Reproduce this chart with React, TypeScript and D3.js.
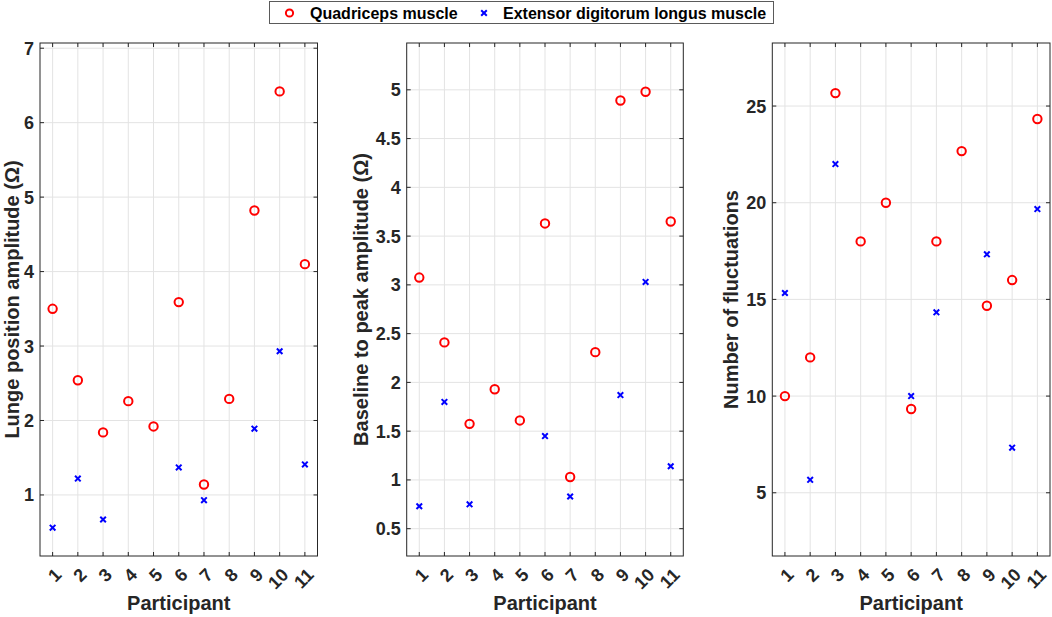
import React from 'react';
import * as d3 from 'd3';

// participants 1..11; NaN = no EDL value recorded
const participants = [1, 2, 3, 4, 5, 6, 7, 8, 9, 10, 11];

const lungeQuad = [3.5, 2.54, 1.84, 2.26, 1.92, 3.59, 1.14, 2.29, 4.82, 6.42, 4.1];
const lungeEdl = [0.56, 1.22, 0.67, NaN, NaN, 1.37, 0.93, NaN, 1.89, 2.93, 1.41];

const peakQuad = [3.075, 2.41, 1.575, 1.93, 1.61, 3.63, 1.03, 2.31, 4.89, 4.98, 3.65];
const peakEdl = [0.73, 1.8, 0.75, NaN, NaN, 1.45, 0.83, NaN, 1.87, 3.03, 1.14];

const flucQuad = [10, 12, 25.67, 18, 20, 9.33, 18, 22.67, 14.67, 16, 24.33];
const flucEdl = [15.33, 5.67, 22, NaN, NaN, 10, 14.33, NaN, 17.33, 7.33, 19.67];

const lungeTicks = [1, 2, 3, 4, 5, 6, 7];
const peakTicks = [0.5, 1, 1.5, 2, 2.5, 3, 3.5, 4, 4.5, 5];
const flucTicks = [5, 10, 15, 20, 25];

const seriesNames = ['Quadriceps muscle', 'Extensor digitorum longus muscle'];

const FONT = '"Liberation Sans", Arial, Helvetica, sans-serif';
const INK = '#262626';
const RED = '#ff0000';
const BLUE = '#0000ff';

interface PanelProps {
  left: number;
  right: number;
  quad: number[];
  edl: number[];
  yDomain: [number, number];
  yTicks: number[];
  yLabel: string;
  yLabelX: number;
}

const TOP = 43;
const BOTTOM = 556;

const Cross = ({ x, y }: { x: number; y: number }) => (
  <path
    d={`M${x - 2.8},${y - 2.8}L${x + 2.8},${y + 2.8}M${x - 2.8},${y + 2.8}L${x + 2.8},${y - 2.8}`}
    stroke={BLUE}
    strokeWidth={2}
    fill="none"
  />
);

const Panel = ({ left, right, quad, edl, yDomain, yTicks, yLabel, yLabelX }: PanelProps) => {
  const x = d3.scaleLinear().domain([0.5, 11.5]).range([left, right]);
  const y = d3.scaleLinear().domain(yDomain).range([BOTTOM, TOP]);
  const tickLen = 4;

  return (
    <g>
      {/* grid */}
      {participants.map(p => (
        <line key={'gx' + p} x1={x(p)} x2={x(p)} y1={TOP} y2={BOTTOM} stroke="#e3e3e3" strokeWidth={1} />
      ))}
      {yTicks.map(t => (
        <line key={'gy' + t} x1={left} x2={right} y1={y(t)} y2={y(t)} stroke="#e3e3e3" strokeWidth={1} />
      ))}

      {/* box */}
      <rect x={left} y={TOP} width={right - left} height={BOTTOM - TOP} fill="none" stroke={INK} strokeWidth={1} />

      {/* ticks, inward on all four sides */}
      {participants.map(p => (
        <g key={'tx' + p} stroke={INK} strokeWidth={1}>
          <line x1={x(p)} x2={x(p)} y1={BOTTOM} y2={BOTTOM - tickLen} />
          <line x1={x(p)} x2={x(p)} y1={TOP} y2={TOP + tickLen} />
        </g>
      ))}
      {yTicks.map(t => (
        <g key={'ty' + t} stroke={INK} strokeWidth={1}>
          <line x1={left} x2={left + tickLen} y1={y(t)} y2={y(t)} />
          <line x1={right} x2={right - tickLen} y1={y(t)} y2={y(t)} />
        </g>
      ))}

      {/* tick labels */}
      {yTicks.map(t => (
        <text
          key={'ly' + t}
          x={left - 6}
          y={y(t)}
          dy="0.36em"
          textAnchor="end"
          fontSize={18}
          fontWeight="bold"
          fill={INK}
        >
          {t}
        </text>
      ))}
      {participants.map(p => (
        <text
          key={'lx' + p}
          transform={`translate(${x(p) + 10},${BOTTOM + 20}) rotate(-45)`}
          textAnchor="end"
          fontSize={18}
          fontWeight="bold"
          fill={INK}
        >
          {p}
        </text>
      ))}

      {/* axis titles */}
      <text x={(left + right) / 2} y={610} textAnchor="middle" fontSize={20} fontWeight="bold" fill={INK}>
        Participant
      </text>
      <text
        transform={`translate(${yLabelX},${(TOP + BOTTOM) / 2}) rotate(-90)`}
        textAnchor="middle"
        fontSize={20}
        fontWeight="bold"
        fill={INK}
      >
        {yLabel}
      </text>

      {/* data */}
      {quad.map((v, i) =>
        isNaN(v) ? null : (
          <circle key={'q' + i} cx={x(participants[i])} cy={y(v)} r={4.2} fill="none" stroke={RED} strokeWidth={2} />
        )
      )}
      {edl.map((v, i) => (isNaN(v) ? null : <Cross key={'e' + i} x={x(participants[i])} y={y(v)} />))}
    </g>
  );
};

const App = () => {
  return (
    <div style={{ position: 'absolute', left: 0, top: 0 }}>
      <svg width={1052} height={617} style={{ display: 'block', background: '#fff', fontFamily: FONT }}>
        <Panel
          left={40}
          right={317.5}
          quad={lungeQuad}
          edl={lungeEdl}
          yDomain={[0.18, 7.07]}
          yTicks={lungeTicks}
          yLabel="Lunge position amplitude (Ω)"
          yLabelX={18.5}
        />
        <Panel
          left={406.7}
          right={683.3}
          quad={peakQuad}
          edl={peakEdl}
          yDomain={[0.22, 5.48]}
          yTicks={peakTicks}
          yLabel="Baseline to peak amplitude (Ω)"
          yLabelX={368}
        />
        <Panel
          left={772.3}
          right={1050}
          quad={flucQuad}
          edl={flucEdl}
          yDomain={[1.73, 28.26]}
          yTicks={flucTicks}
          yLabel="Number of fluctuations"
          yLabelX={738}
        />

        {/* legend */}
        <g>
          <rect x={269.5} y={1.5} width={504} height={22} fill="#fff" stroke="#5a5a5a" strokeWidth={1} />
          <circle cx={289.5} cy={13} r={3.6} fill="none" stroke={RED} strokeWidth={2} />
          <text x={310} y={13} dy="0.36em" fontSize={16} fontWeight="bold" fill="#000">
            {seriesNames[0]}
          </text>
          <Cross x={484} y={13} />
          <text x={503} y={13} dy="0.36em" fontSize={16} fontWeight="bold" fill="#000">
            {seriesNames[1]}
          </text>
        </g>
      </svg>
    </div>
  );
};

export default App;
